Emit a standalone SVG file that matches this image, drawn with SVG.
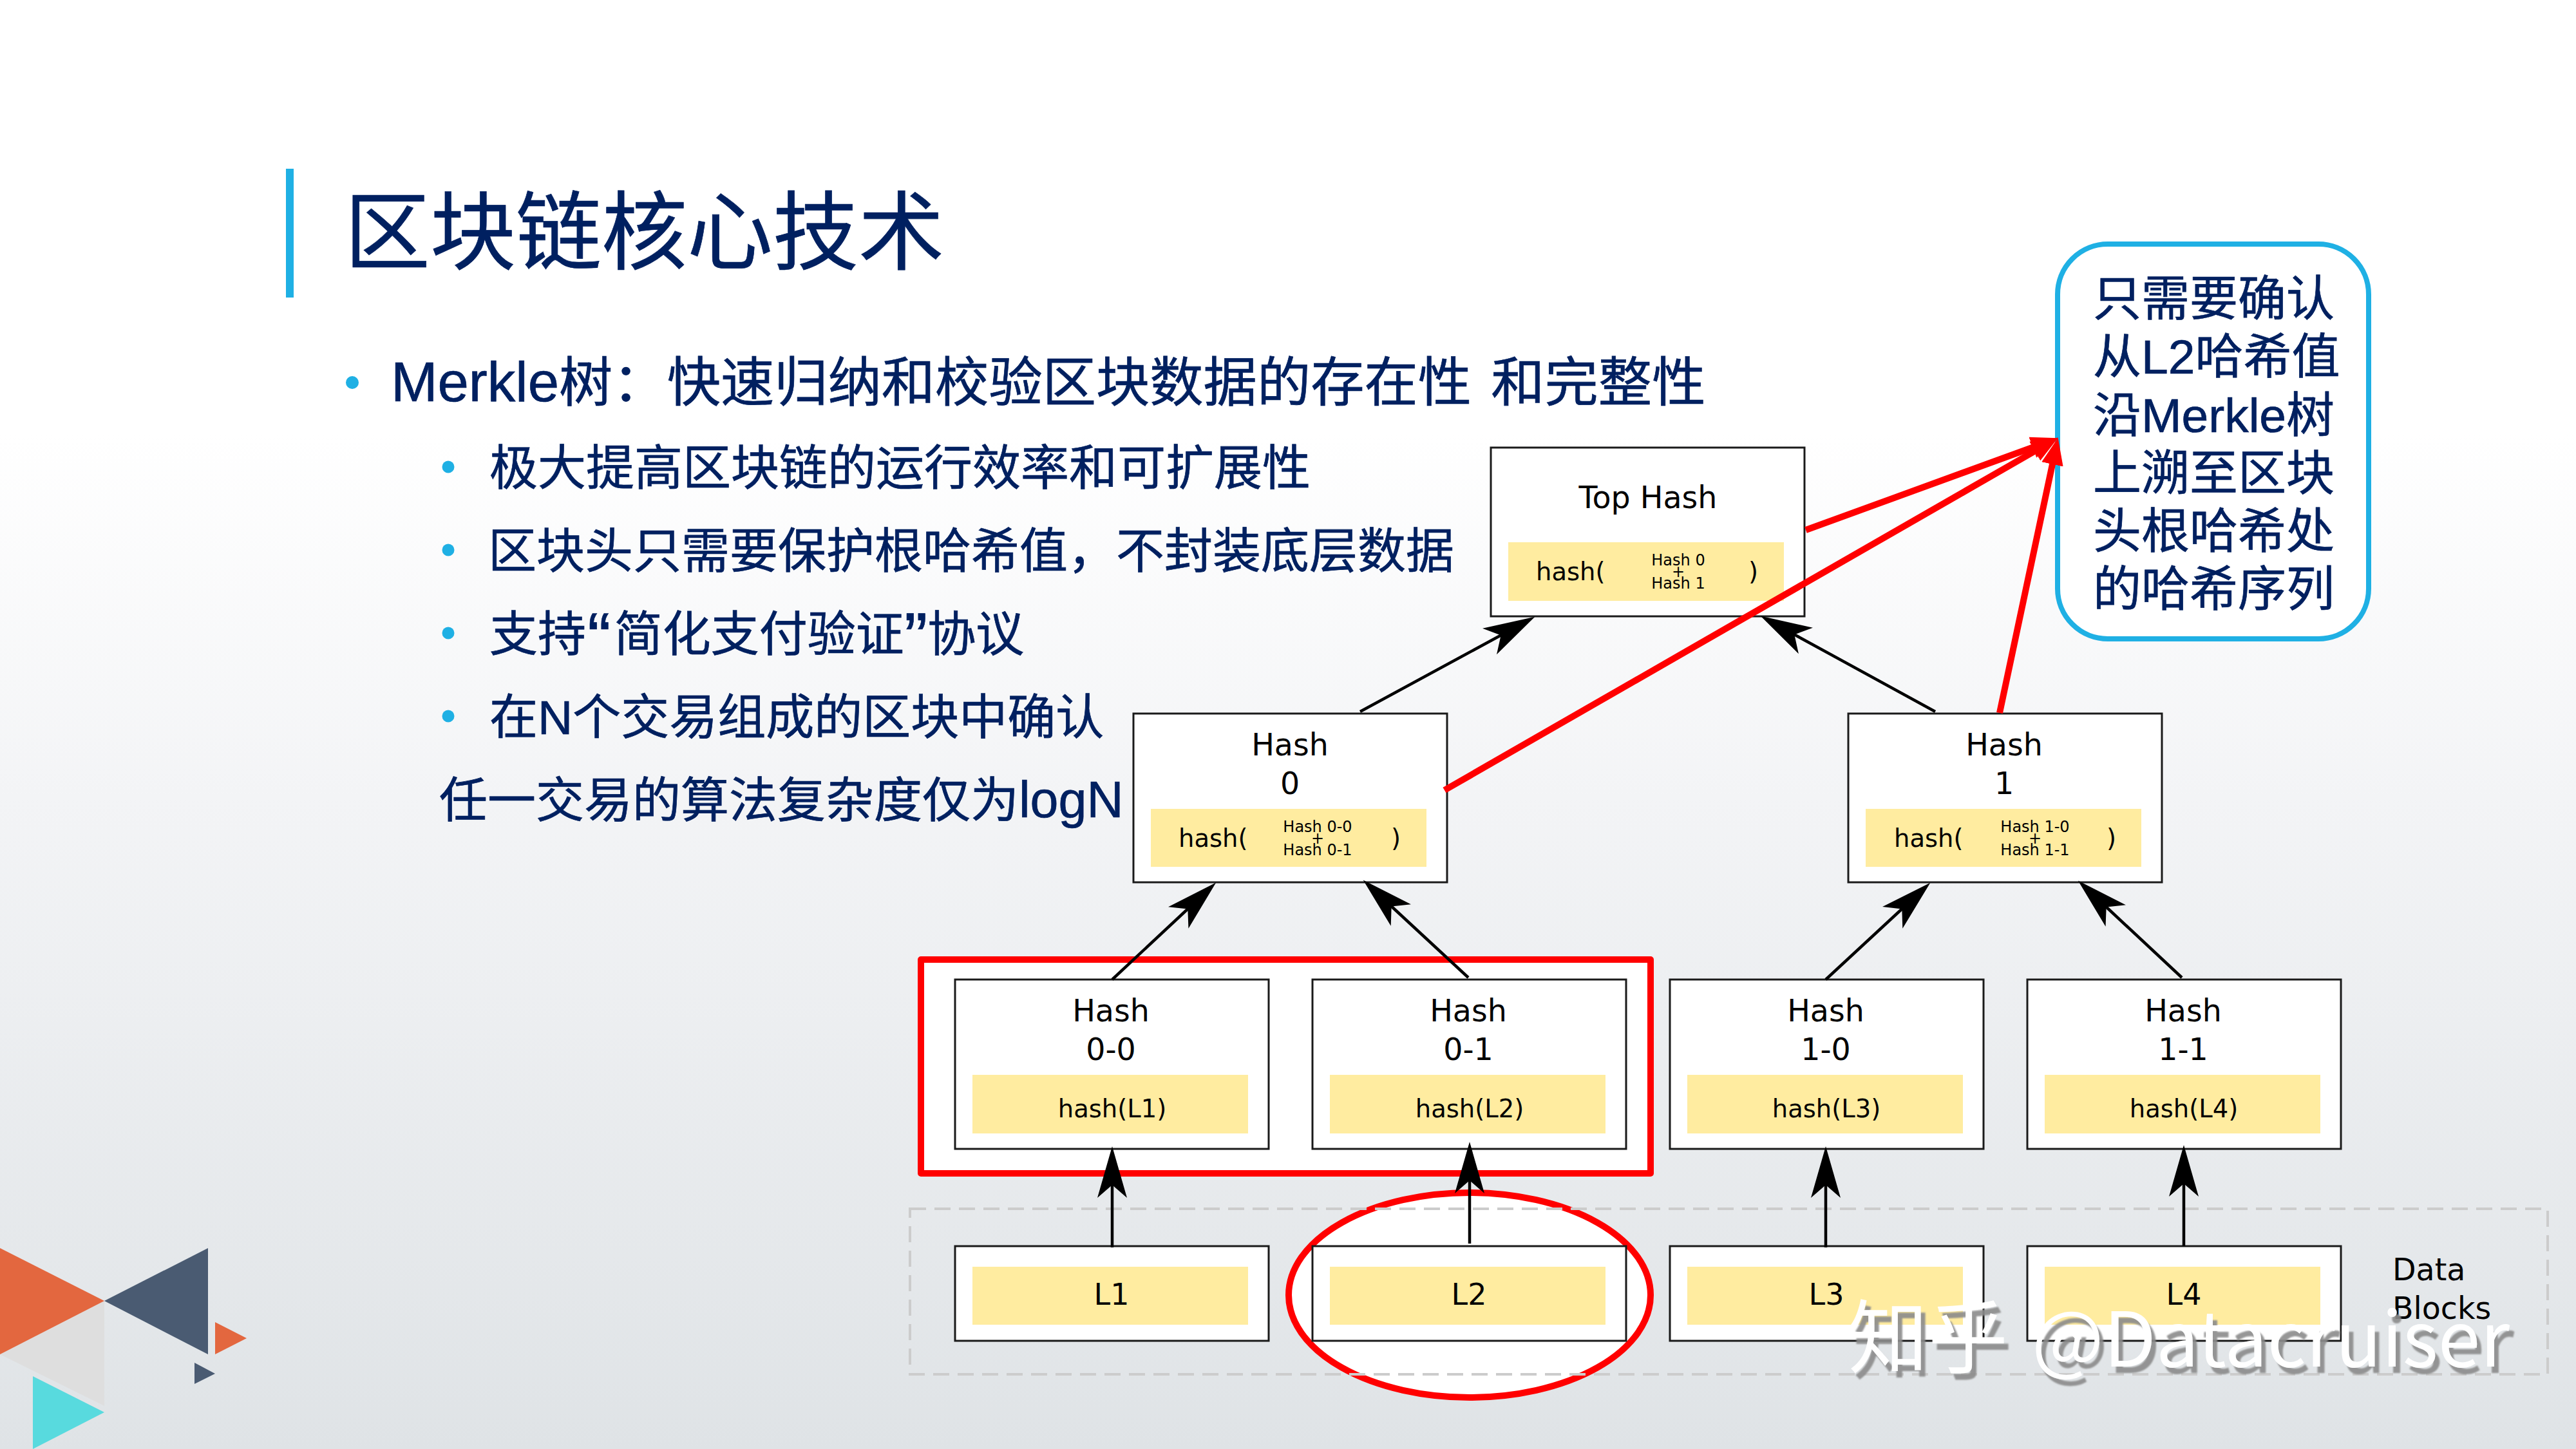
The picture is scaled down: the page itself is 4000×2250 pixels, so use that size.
<svg xmlns="http://www.w3.org/2000/svg" width="4000" height="2250" viewBox="0 0 4000 2250">
<style>
.t{font-family:"Liberation Sans","Noto Sans CJK SC",sans-serif;fill:#002060;stroke:#002060;stroke-width:.7}
.n{font-family:"DejaVu Sans",sans-serif;fill:#000;font-size:47.5px;text-anchor:middle}
.st{text-anchor:start}
.h{font-size:38.5px}
.s{font-size:24px}
.l{font-size:46px}
.box{fill:#fff;stroke:#1a1a1a;stroke-width:3}
.y{fill:#ffeca0}
.bul{fill:#1fb0e4}
.k{stroke:#000;stroke-width:4.5;fill:none;marker-end:url(#ka)}
.r{stroke:#f00;stroke-width:10;fill:none;marker-end:url(#ra)}
</style>
<defs>
<linearGradient id="bg" x1="0" y1="0" x2="0" y2="1">
<stop offset="0" stop-color="#fff"/><stop offset="0.3" stop-color="#fff"/><stop offset="0.55" stop-color="#f3f4f6"/><stop offset="1" stop-color="#dfe3e6"/>
</linearGradient>
<marker id="ka" markerUnits="userSpaceOnUse" markerWidth="90" markerHeight="50" viewBox="0 0 90 50" refX="25" refY="25" orient="auto"><path d="M0,2L80,25L0,48L20,25Z" fill="#000"/></marker>
<marker id="ra" markerUnits="userSpaceOnUse" markerWidth="44" markerHeight="36" viewBox="0 0 44 36" refX="5" refY="18" orient="auto"><path d="M0,1L42,18L0,35Z" fill="#f00"/></marker>
<filter id="sh" x="-5%" y="-20%" width="110%" height="140%"><feDropShadow dx="7" dy="10" stdDeviation="0.8" flood-color="#8a8a8a" flood-opacity="0.9"/></filter>
</defs>
<rect width="4000" height="2250" fill="url(#bg)"/>
<g id="decor">
<polygon points="162,2020 162,2183 0,2103" fill="#dedede"/>
<polygon points="0,1938 162,2020 0,2103" fill="#e3673f"/>
<polygon points="162,2020 323,1938 323,2103" fill="#4a5b72"/>
<polygon points="334,2053 383,2078 334,2103" fill="#e3673f"/>
<polygon points="302,2116 334,2133 302,2149" fill="#4a5b72"/>
<polygon points="51,2137 162,2193 51,2250" fill="#58dade"/>
</g>
<g id="title">
<rect x="444" y="262" width="12" height="200" fill="#1fb0e4"/>
<text class="t" x="535" y="408" font-size="133">区块链核心技术</text>
</g>
<g id="bullets">
<circle class="bul" cx="547" cy="594" r="10"/>
<text class="t" x="607" y="623" font-size="83.3"><tspan font-size="87">Merkle</tspan>树：<tspan dx="1">快速归纳和校验区块数据的存在性 </tspan><tspan dx="7">和完整性</tspan></text>
<circle class="bul" cx="696" cy="725" r="9.5"/>
<text class="t" x="760" y="753" font-size="75">极大提高区块链的运行效率和可扩展性</text>
<circle class="bul" cx="696" cy="854" r="9.5"/>
<text class="t" x="758" y="882" font-size="75">区块头只需要保护根哈希值，不封装底层数据</text>
<circle class="bul" cx="696" cy="983" r="9.5"/>
<text class="t" x="760" y="1011" font-size="75">支持<tspan dx="2" dy="17" font-size="110">“</tspan><tspan dx="5" dy="-17">简化支付验证</tspan><tspan dy="17" font-size="110">”</tspan><tspan dy="-17">协议</tspan></text>
<circle class="bul" cx="696" cy="1112" r="9.5"/>
<text class="t" x="760" y="1140" font-size="75">在N个交易组成的区块中确认</text>
<text class="t" x="682" y="1269" font-size="75">任一交易的算法复杂度仅为<tspan font-size="79">logN</tspan></text>
</g>
<g id="highlight-hash-pair"><rect x="1430" y="1490" width="1133" height="332" fill="#fff" stroke="#f00" stroke-width="10" stroke-linejoin="round"/></g>
<g id="highlight-l2"><ellipse cx="2282" cy="2011" rx="281" ry="159" fill="#fff" stroke="#f00" stroke-width="10"/></g>
<g id="data-blocks">
<rect x="1413" y="1877" width="2543" height="257" fill="none" stroke="#ccc" stroke-width="4" stroke-dasharray="25 13"/>
<text class="n st" x="3715" y="1988">Data</text>
<text class="n st" x="3715" y="2048">Blocks</text>
</g>
<g id="top-hash">
<rect class="box" x="2315" y="695" width="487" height="262"/><rect class="y" x="2342" y="842" width="428" height="91"/>
<text class="n" x="2559" y="789">Top Hash</text>
<text class="n h st" x="2385" y="901">hash(</text><text class="n h st" x="2715" y="901">)</text>
<text class="n s" x="2606" y="878">Hash 0</text><text class="n s" x="2606" y="896">+</text><text class="n s" x="2606" y="914">Hash 1</text>
</g>
<g id="hash-0">
<rect class="box" x="1760" y="1108" width="487" height="262"/><rect class="y" x="1787" y="1256" width="428" height="90"/>
<text class="n" x="2003" y="1173">Hash</text><text class="n" x="2003" y="1233">0</text>
<text class="n h st" x="1830" y="1315">hash(</text><text class="n h st" x="2160" y="1315">)</text>
<text class="n s" x="2046" y="1292">Hash 0-0</text><text class="n s" x="2046" y="1310">+</text><text class="n s" x="2046" y="1328">Hash 0-1</text>
</g>
<g id="hash-1">
<rect class="box" x="2870" y="1108" width="487" height="262"/><rect class="y" x="2897" y="1256" width="428" height="90"/>
<text class="n" x="3112" y="1173">Hash</text><text class="n" x="3112" y="1233">1</text>
<text class="n h st" x="2941" y="1315">hash(</text><text class="n h st" x="3271" y="1315">)</text>
<text class="n s" x="3160" y="1292">Hash 1-0</text><text class="n s" x="3160" y="1310">+</text><text class="n s" x="3160" y="1328">Hash 1-1</text>
</g>
<g id="hash-0-0">
<rect class="box" x="1483" y="1521" width="487" height="263"/><rect class="y" x="1510" y="1669" width="428" height="91"/>
<text class="n" x="1725" y="1586">Hash</text><text class="n" x="1725" y="1646">0-0</text><text class="n h" x="1727" y="1735">hash(L1)</text>
</g>
<g id="hash-0-1">
<rect class="box" x="2038" y="1521" width="487" height="263"/><rect class="y" x="2065" y="1669" width="428" height="91"/>
<text class="n" x="2280" y="1586">Hash</text><text class="n" x="2280" y="1646">0-1</text><text class="n h" x="2282" y="1735">hash(L2)</text>
</g>
<g id="hash-1-0">
<rect class="box" x="2593" y="1521" width="487" height="263"/><rect class="y" x="2620" y="1669" width="428" height="91"/>
<text class="n" x="2835" y="1586">Hash</text><text class="n" x="2835" y="1646">1-0</text><text class="n h" x="2836" y="1735">hash(L3)</text>
</g>
<g id="hash-1-1">
<rect class="box" x="3148" y="1521" width="487" height="263"/><rect class="y" x="3175" y="1669" width="428" height="91"/>
<text class="n" x="3390" y="1586">Hash</text><text class="n" x="3390" y="1646">1-1</text><text class="n h" x="3391" y="1735">hash(L4)</text>
</g>
<g id="l1"><rect class="box" x="1483" y="1935" width="487" height="147"/><rect class="y" x="1510" y="1967" width="428" height="90"/><text class="n l" x="1726" y="2026">L1</text></g>
<g id="l2"><rect class="box" x="2038" y="1935" width="487" height="147"/><rect class="y" x="2065" y="1967" width="428" height="90"/><text class="n l" x="2281" y="2026">L2</text></g>
<g id="l3"><rect class="box" x="2593" y="1935" width="487" height="147"/><rect class="y" x="2620" y="1967" width="428" height="90"/><text class="n l" x="2836" y="2026">L3</text></g>
<g id="l4"><rect class="box" x="3148" y="1935" width="487" height="147"/><rect class="y" x="3175" y="1967" width="428" height="90"/><text class="n l" x="3391" y="2026">L4</text></g>
<g id="callout">
<rect x="3195" y="379" width="483" height="613" rx="78" ry="78" fill="#fff" stroke="#1fb0e4" stroke-width="8"/>
<text class="t" x="3250" y="490" font-size="75">只需要确认</text>
<text class="t" x="3250" y="580" font-size="75">从L2哈希值</text>
<text class="t" x="3250" y="671" font-size="75">沿Merkle树</text>
<text class="t" x="3250" y="761" font-size="75">上溯至区块</text>
<text class="t" x="3250" y="851" font-size="75">头根哈希处</text>
<text class="t" x="3250" y="941" font-size="75">的哈希序列</text>
</g>
<g id="connectors">
<line class="k" x1="1727" y1="1937" x2="1727" y2="1835"/>
<line class="k" x1="2282" y1="1931" x2="2282" y2="1828"/>
<line class="k" x1="2835" y1="1937" x2="2835" y2="1835"/>
<line class="k" x1="3391" y1="1935" x2="3391" y2="1833"/>
<line class="k" x1="1727" y1="1521" x2="1848" y2="1408"/>
<line class="k" x1="2280" y1="1518" x2="2157" y2="1404"/>
<line class="k" x1="2835" y1="1521" x2="2957" y2="1408"/>
<line class="k" x1="3388" y1="1518" x2="3267" y2="1405"/>
<line class="k" x1="2112" y1="1105" x2="2335" y2="984"/>
<line class="k" x1="3005" y1="1105" x2="2782" y2="983"/>
<line class="r" x1="2804" y1="823" x2="3161" y2="693"/>
<line class="r" x1="2243" y1="1227" x2="3164" y2="698"/>
<line class="r" x1="3105" y1="1107" x2="3188" y2="716"/>
</g>
<g id="watermark" filter="url(#sh)">
<text x="2870" y="2122" font-size="124" font-family="'Noto Sans CJK SC',sans-serif" fill="#fff">知乎<tspan x="3155" font-size="118">@Datacruiser</tspan></text>
</g>
</svg>
